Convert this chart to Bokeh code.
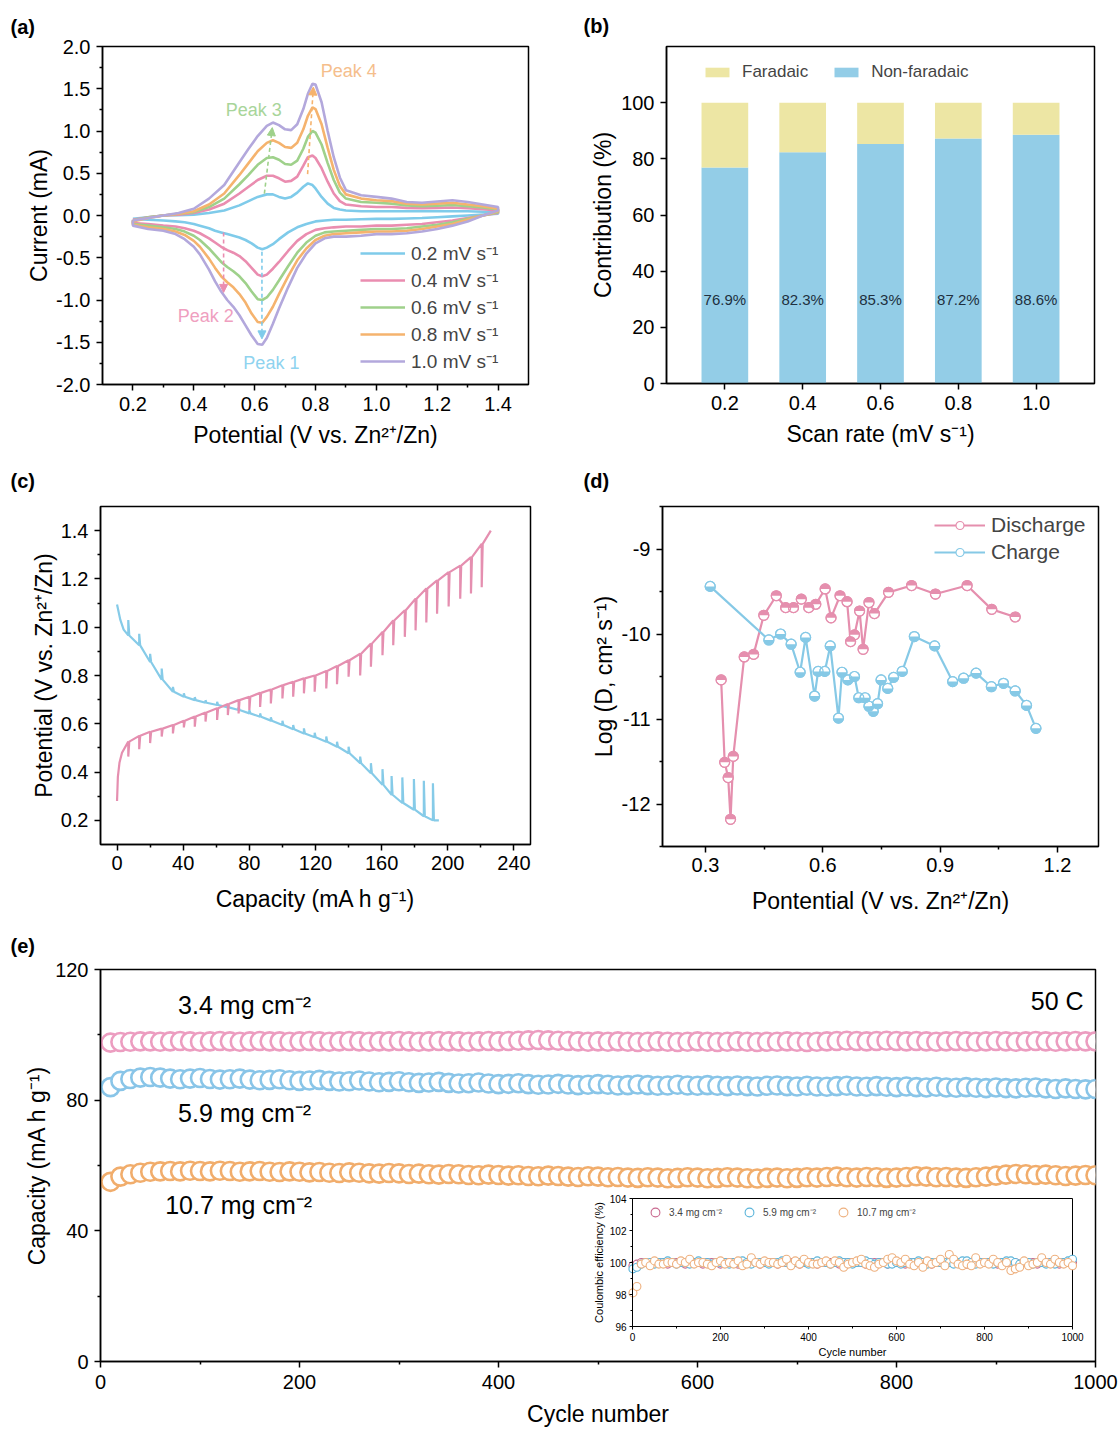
import numpy as np
from bokeh.plotting import figure
from bokeh.layouts import column, row
from bokeh.models import (FixedTicker, PrintfTickFormatter, Legend, LegendItem, Arrow,
                          NormalHead, Label, Range1d, LinearAxis, ColumnDataSource)
from bokeh.core.properties import value
from bokeh.embed import file_html
from bokeh.resources import INLINE

FONT = "Liberation Sans"

# ======================= (a) CV curves =======================
cv_labels = ["0.2 mV s\u207b\u00b9", "0.4 mV s\u207b\u00b9", "0.6 mV s\u207b\u00b9",
             "0.8 mV s\u207b\u00b9", "1.0 mV s\u207b\u00b9"]
cv_colors = ["#7fcbea", "#ea8db0", "#9fd18b", "#f5b36e", "#b3a8dc"]
cv_anodic_v = [0.20, 0.25, 0.30, 0.35, 0.40, 0.45, 0.50, 0.55, 0.58, 0.61, 0.64, 0.66,
               0.68, 0.70, 0.72, 0.74, 0.76, 0.775, 0.79, 0.80, 0.82, 0.84, 0.86, 0.88,
               0.90, 0.95, 1.00, 1.05, 1.10, 1.15, 1.20, 1.25, 1.30, 1.35, 1.40]
cv_cathodic_v = [1.40, 1.35, 1.30, 1.25, 1.20, 1.15, 1.10, 1.05, 1.00, 0.95,
                 0.90, 0.86, 0.83, 0.80, 0.77, 0.74, 0.71, 0.68, 0.66, 0.64,
                 0.625, 0.61, 0.59, 0.57, 0.55, 0.53, 0.51, 0.49, 0.47, 0.45,
                 0.42, 0.40, 0.37, 0.34, 0.30, 0.25, 0.20]
cv_anodic_i = [
    [-0.04, -0.02, 0.0, 0.005, 0.01, 0.03, 0.06, 0.12, 0.17, 0.22, 0.25, 0.25, 0.22, 0.20, 0.22,
     0.27, 0.34, 0.38, 0.36, 0.32, 0.22, 0.14, 0.09, 0.07, 0.06, 0.05, 0.05, 0.05, 0.05, 0.05,
     0.05, 0.05, 0.05, 0.045, 0.04],
    [-0.05, -0.02, 0.0, 0.01, 0.03, 0.07, 0.14, 0.26, 0.34, 0.42, 0.47, 0.47, 0.44, 0.40, 0.41,
     0.46, 0.59, 0.69, 0.71, 0.68, 0.56, 0.40, 0.26, 0.17, 0.13, 0.11, 0.10, 0.10, 0.09, 0.085,
     0.09, 0.095, 0.085, 0.075, 0.06],
    [-0.06, -0.02, 0.0, 0.02, 0.04, 0.10, 0.20, 0.37, 0.48, 0.60, 0.68, 0.69, 0.66, 0.61, 0.60,
     0.65, 0.79, 0.93, 1.00, 0.98, 0.84, 0.62, 0.42, 0.27, 0.20, 0.16, 0.15, 0.14, 0.12, 0.11,
     0.115, 0.125, 0.11, 0.095, 0.07],
    [-0.07, -0.03, 0.0, 0.02, 0.05, 0.13, 0.26, 0.48, 0.62, 0.76, 0.86, 0.89, 0.86, 0.81, 0.80,
     0.86, 1.02, 1.18, 1.28, 1.26, 1.08, 0.80, 0.54, 0.35, 0.25, 0.20, 0.18, 0.17, 0.14, 0.13,
     0.14, 0.15, 0.13, 0.11, 0.08],
    [-0.06, -0.03, 0.0, 0.03, 0.08, 0.20, 0.36, 0.63, 0.79, 0.94, 1.06, 1.10, 1.07, 1.02, 1.01,
     1.08, 1.26, 1.44, 1.56, 1.55, 1.34, 1.00, 0.69, 0.45, 0.30, 0.24, 0.22, 0.20, 0.16, 0.15,
     0.165, 0.18, 0.16, 0.13, 0.10],
]
cv_cathodic_i = [
    [0.02, 0.01, 0.0, -0.01, -0.02, -0.03, -0.035, -0.04, -0.04, -0.045,
     -0.05, -0.05, -0.06, -0.07, -0.10, -0.14, -0.20, -0.28, -0.34, -0.38,
     -0.40, -0.38, -0.33, -0.29, -0.26, -0.24, -0.22, -0.20, -0.18, -0.15,
     -0.12, -0.10, -0.08, -0.07, -0.06, -0.05, -0.04],
    [0.03, 0.0, -0.03, -0.06, -0.08, -0.10, -0.11, -0.12, -0.12, -0.13,
     -0.13, -0.14, -0.15, -0.17, -0.22, -0.30, -0.42, -0.55, -0.63, -0.70,
     -0.72, -0.70, -0.62, -0.54, -0.48, -0.44, -0.41, -0.37, -0.32, -0.27,
     -0.21, -0.18, -0.15, -0.13, -0.12, -0.10, -0.09],
    [0.04, 0.0, -0.04, -0.08, -0.11, -0.13, -0.15, -0.16, -0.16, -0.17,
     -0.18, -0.19, -0.20, -0.24, -0.32, -0.44, -0.60, -0.77, -0.88, -0.97,
     -1.00, -0.99, -0.90, -0.80, -0.72, -0.66, -0.61, -0.55, -0.47, -0.39,
     -0.29, -0.24, -0.19, -0.16, -0.14, -0.12, -0.10],
    [0.05, 0.0, -0.05, -0.10, -0.13, -0.16, -0.18, -0.19, -0.19, -0.20,
     -0.21, -0.22, -0.24, -0.29, -0.39, -0.53, -0.72, -0.93, -1.08, -1.20,
     -1.27, -1.26, -1.16, -1.03, -0.93, -0.85, -0.79, -0.72, -0.62, -0.51,
     -0.37, -0.30, -0.23, -0.19, -0.16, -0.14, -0.11],
    [0.06, 0.0, -0.07, -0.12, -0.16, -0.19, -0.21, -0.22, -0.22, -0.24,
     -0.25, -0.25, -0.27, -0.33, -0.45, -0.62, -0.85, -1.10, -1.28, -1.45,
     -1.53, -1.52, -1.42, -1.30, -1.18, -1.08, -1.00, -0.90, -0.78, -0.64,
     -0.46, -0.37, -0.28, -0.22, -0.18, -0.16, -0.12],
]
peak_names = ["Peak 1", "Peak 2", "Peak 3", "Peak 4"]
peak_colors = ["#8fd3ef", "#ef9fc0", "#a8d59a", "#f5be8c"]
peak_line_colors = ["#7fcbea", "#ea8db0", "#9fd18b", "#f5b36e"]
peak_text_x = [0.655, 0.439, 0.597, 0.909]
peak_text_y = [-1.75, -1.19, 1.25, 1.71]
peak_arrow_x0 = [0.624, 0.498, 0.632, 0.774]
peak_arrow_y0 = [-0.43, -0.20, 0.26, 0.49]
peak_arrow_x1 = [0.624, 0.498, 0.658, 0.793]
peak_arrow_y1 = [-1.46, -0.91, 1.04, 1.52]

# ======================= (b) contribution =======================
scan_rates = [0.2, 0.4, 0.6, 0.8, 1.0]
nonfaradaic = [76.9, 82.3, 85.3, 87.2, 88.6]
faradaic = [23.1, 17.7, 14.7, 12.8, 11.4]
bar_blue = "#93cde7"
bar_yellow = "#ede6a4"

# ======================= (c) GITT =======================
chg_start_cap = [0.0, 0.5, 1.5, 3.0]
chg_start_v = [0.28, 0.38, 0.44, 0.48]
chg_caps = [6.8, 13.4, 20.0, 27.0, 33.8, 40.4, 47.0, 53.5, 60.5, 67.0, 73.5, 80.0, 86.5,
            93.0, 100.0, 106.5, 113.0, 119.5, 126.5, 133.0, 140.0, 147.0, 153.5, 160.5,
            167.0, 174.0, 180.5, 187.0, 193.5, 200.5, 207.5, 214.0, 220.5]
chg_peak_v = [0.526, 0.55, 0.567, 0.58, 0.595, 0.613, 0.63, 0.647, 0.664, 0.682, 0.698,
              0.712, 0.728, 0.742, 0.76, 0.774, 0.788, 0.80, 0.819, 0.839, 0.863, 0.89,
              0.932, 0.98, 1.028, 1.07, 1.118, 1.16, 1.194, 1.228, 1.255, 1.29, 1.345]
chg_rest_v = [0.464, 0.495, 0.52, 0.547, 0.56, 0.585, 0.588, 0.609, 0.616, 0.636, 0.643,
              0.657, 0.67, 0.684, 0.705, 0.712, 0.726, 0.733, 0.746, 0.764, 0.795, 0.80,
              0.836, 0.884, 0.925, 0.96, 0.987, 1.02, 1.056, 1.086, 1.118, 1.14, 1.166]
chg_end = (226.0, 1.40)

dis_start_cap = [0.0, 2.0, 4.0]
dis_start_v = [1.094, 1.03, 0.99]
dis_caps = [6.8, 13.4, 20.0, 27.0, 33.8, 40.4, 47.0, 53.5, 60.5, 67.0, 73.5, 80.0, 86.5,
            93.0, 100.0, 106.5, 113.0, 119.5, 126.5, 133.0, 140.0, 147.0, 153.5, 160.5,
            166.0, 172.5, 179.5, 185.5, 191.0]
dis_low_v = [0.966, 0.925, 0.856, 0.783, 0.733, 0.712, 0.698, 0.687, 0.678, 0.668, 0.657,
             0.643, 0.629, 0.613, 0.595, 0.577, 0.56, 0.544, 0.526, 0.505, 0.478, 0.437,
             0.395, 0.347, 0.306, 0.272, 0.244, 0.217, 0.2]
dis_rest_v = [1.03, 0.973, 0.89, 0.829, 0.753, 0.726, 0.71, 0.698, 0.691, 0.682, 0.67,
              0.657, 0.643, 0.627, 0.613, 0.595, 0.581, 0.563, 0.547, 0.526, 0.505, 0.464,
              0.437, 0.412, 0.384, 0.378, 0.371, 0.364, 0.354]
dis_end = (194.6, 0.20)
gitt_pink = "#e58fb0"
gitt_blue = "#86cbe8"

# ======================= (d) diffusion =======================
d_dis_v = [0.340, 0.349, 0.358, 0.364, 0.371, 0.399, 0.423, 0.449, 0.481, 0.505, 0.525,
           0.545, 0.564, 0.582, 0.606, 0.621, 0.644, 0.662, 0.671, 0.681, 0.694, 0.703,
           0.718, 0.732, 0.768, 0.827, 0.888, 0.969, 1.032, 1.092]
d_dis_logd = [-10.54, -11.51, -11.69, -12.18, -11.44, -10.27, -10.24, -9.78, -9.55, -9.69,
              -9.69, -9.59, -9.69, -9.65, -9.47, -9.81, -9.55, -9.62, -10.09, -10.01, -9.73,
              -10.18, -9.63, -9.76, -9.51, -9.43, -9.53, -9.43, -9.71, -9.80]
d_chg_v = [0.312, 0.462, 0.492, 0.519, 0.542, 0.556, 0.579, 0.588, 0.605, 0.619, 0.640,
           0.649, 0.664, 0.681, 0.692, 0.708, 0.718, 0.729, 0.740, 0.749, 0.766, 0.781,
           0.803, 0.834, 0.886, 0.932, 0.960, 0.992, 1.031, 1.062, 1.092, 1.121, 1.145]
d_chg_logd = [-9.44, -10.07, -10.00, -10.12, -10.45, -10.04, -10.73, -10.44, -10.44, -10.14,
              -10.99, -10.45, -10.54, -10.50, -10.75, -10.75, -10.85, -10.91, -10.82, -10.54,
              -10.64, -10.51, -10.44, -10.03, -10.14, -10.56, -10.52, -10.46, -10.62, -10.58,
              -10.67, -10.84, -11.11]
d_pink = "#e58fae"
d_blue = "#86c9e6"

# ======================= (e) cycling =======================
cycles = list(range(10, 1001, 10))
cap_34 = [97.6, 97.8, 97.9, 98.0, 98.0, 97.9, 98.0, 98.1, 98.0, 97.9,
          98.0, 98.1, 98.0, 97.9, 98.0, 98.1, 98.0, 98.0, 97.9, 98.0,
          98.1, 98.0, 97.9, 98.0, 98.1, 98.0, 97.9, 98.0, 98.0, 98.1,
          98.0, 97.9, 98.0, 98.1, 98.0, 98.0, 97.9, 98.0, 98.1, 98.0,
          98.1, 98.2, 98.3, 98.4, 98.3, 98.2, 98.1, 98.0, 97.9, 98.0,
          97.9, 98.0, 97.9, 97.8, 97.9, 98.0, 97.9, 97.8, 97.9, 98.0,
          97.9, 97.8, 97.9, 98.0, 97.9, 97.8, 97.9, 97.9, 98.0, 97.9,
          97.8, 97.9, 98.0, 98.1, 98.2, 98.1, 98.0, 98.1, 98.2, 98.1,
          98.0, 98.1, 98.0, 97.9, 98.0, 98.1, 98.0, 97.9, 98.0, 98.1,
          98.0, 97.9, 98.0, 98.1, 98.0, 97.9, 98.0, 98.1, 98.0, 98.0]
cap_59 = [84.0, 85.9, 86.5, 86.9, 87.1, 86.9, 86.6, 86.4, 86.6, 86.8,
          86.5, 86.3, 86.4, 86.6, 86.3, 86.1, 86.2, 86.4, 86.1, 85.9,
          86.0, 86.2, 85.9, 85.7, 85.8, 86.0, 85.7, 85.5, 85.6, 85.8,
          85.5, 85.3, 85.4, 85.6, 85.3, 85.1, 85.2, 85.4, 85.1, 84.9,
          85.0, 85.2, 84.9, 84.7, 84.8, 85.0, 84.8, 84.6, 84.7, 84.9,
          84.7, 84.5, 84.6, 84.8, 84.6, 84.4, 84.5, 84.7, 84.5, 84.4,
          84.6, 84.4, 84.3, 84.5, 84.3, 84.2, 84.4, 84.5, 84.3, 84.2,
          84.4, 84.2, 84.1, 84.3, 84.4, 84.2, 84.1, 84.3, 84.1, 84.0,
          84.2, 84.0, 83.9, 84.1, 83.9, 83.8, 84.0, 83.8, 83.7, 83.9,
          83.7, 83.6, 83.8, 83.9, 83.6, 83.4, 83.6, 83.4, 83.3, 83.4]
cap_107 = [55.0, 56.6, 57.3, 57.8, 58.1, 58.2, 58.3, 58.2, 58.4, 58.3,
           58.2, 58.4, 58.3, 58.1, 58.2, 58.3, 58.1, 58.0, 58.2, 58.1,
           57.9, 58.0, 57.8, 57.7, 57.9, 57.8, 57.6, 57.5, 57.7, 57.6,
           57.4, 57.5, 57.3, 57.2, 57.4, 57.3, 57.1, 57.0, 57.2, 57.1,
           56.9, 57.0, 56.8, 56.7, 56.9, 56.8, 56.6, 56.5, 56.7, 56.6,
           56.4, 56.5, 56.3, 56.2, 56.4, 56.3, 56.1, 56.2, 56.4, 56.3,
           56.1, 56.2, 56.4, 56.3, 56.1, 56.0, 56.2, 56.3, 56.1, 56.2,
           56.4, 56.3, 56.5, 56.6, 56.4, 56.3, 56.5, 56.4, 56.2, 56.3,
           56.5, 56.7, 56.6, 56.4, 56.5, 56.3, 56.2, 56.4, 56.6, 56.9,
           57.2, 57.4, 57.3, 57.1, 57.2, 57.0, 56.8, 56.9, 57.1, 57.0]
loading_labels = ["3.4 mg cm\u207b\u00b2", "5.9 mg cm\u207b\u00b2", "10.7 mg cm\u207b\u00b2"]
loading_colors = ["#ec9dc0", "#89c5e8", "#f1ad6c"]
loading_text_x = [78, 78, 65]
loading_text_y = [109.0, 76.2, 47.8]
rate_text = "50 C"
rate_text_pos = (988, 110.5)

ce_cycles = [1] + list(range(10, 1001, 10))
ce_34 = [99.8, 99.9, 100.0, 100.0, 99.9, 100.0, 100.0, 100.0, 99.9, 100.0, 100.0,
         100.0, 99.9, 100.0, 100.0, 100.0, 99.9, 100.0, 100.0, 100.0, 99.9,
         100.0, 100.0, 100.0, 99.9, 100.0, 100.0, 100.0, 100.0, 99.9, 100.0,
         100.0, 100.0, 99.9, 100.0, 100.0, 100.0, 100.0, 99.9, 100.0, 100.0,
         100.0, 99.9, 100.0, 100.0, 100.0, 100.0, 99.9, 100.0, 100.0, 100.0,
         100.0, 100.0, 99.9, 100.0, 100.0, 100.0, 100.0, 99.9, 100.0, 100.0,
         100.0, 99.9, 100.0, 100.0, 100.0, 100.0, 100.0, 99.9, 100.0, 100.0,
         99.9, 100.0, 100.0, 100.0, 100.0, 99.9, 100.0, 100.0, 100.0, 100.0,
         100.0, 100.0, 99.9, 100.0, 100.0, 100.0, 100.0, 99.9, 100.0, 100.0,
         100.0, 99.9, 100.0, 100.0, 100.0, 100.0, 99.9, 100.0, 100.0, 100.0]
ce_59 = [99.6, 99.7, 99.9, 100.0, 100.0, 99.9, 100.0, 100.0, 100.1, 100.0, 99.9,
         100.0, 100.0, 99.9, 100.0, 100.1, 100.0, 100.0, 99.9, 100.0, 100.0,
         100.0, 99.9, 100.0, 100.0, 100.1, 100.0, 99.9, 100.0, 100.0, 100.0,
         99.9, 100.0, 100.0, 100.1, 100.0, 99.9, 100.0, 100.0, 100.0, 99.9,
         100.0, 100.1, 100.0, 100.0, 99.9, 100.0, 100.1, 100.0, 100.0, 99.9,
         100.0, 100.0, 100.1, 100.0, 99.9, 100.0, 100.0, 99.9, 99.9, 100.0,
         99.9, 100.0, 100.0, 100.0, 100.1, 100.0, 99.9, 100.0, 100.0, 100.0,
         100.0, 100.0, 99.9, 100.0, 100.1, 100.1, 100.0, 99.9, 100.0, 100.0,
         100.0, 99.9, 100.0, 100.0, 100.1, 100.1, 100.0, 99.9, 100.0, 100.0,
         99.9, 100.0, 100.0, 99.9, 100.0, 99.9, 100.0, 100.0, 100.1, 100.2]
ce_107 = [98.1, 98.5, 99.9, 100.0, 99.8, 100.1, 99.9, 99.9, 100.0, 100.0, 99.9,
          100.1, 100.0, 100.2, 99.9, 100.0, 100.0, 99.9, 99.8, 100.0, 100.1,
          99.9, 100.0, 99.9, 100.1, 99.8, 99.9, 100.3, 100.0, 99.9, 100.1,
          100.0, 100.0, 99.9, 100.0, 100.2, 99.8, 100.1, 99.9, 100.2, 100.0,
          99.9, 99.9, 100.0, 100.1, 99.9, 100.1, 100.0, 99.7, 99.9, 100.0,
          100.1, 100.2, 99.9, 99.8, 99.7, 99.9, 100.0, 100.2, 100.3, 100.1,
          100.0, 100.2, 99.9, 99.8, 100.0, 99.7, 100.1, 99.9, 100.0, 100.2,
          99.8, 100.5, 100.2, 99.9, 99.8, 99.9, 99.8, 100.3, 99.9, 100.0,
          99.9, 100.2, 100.0, 99.8, 100.0, 99.5, 99.6, 99.7, 100.1, 99.8,
          99.9, 100.0, 100.3, 100.0, 99.9, 100.2, 100.0, 99.9, 100.0, 99.8]
ce_colors = ["#c9698f", "#5ab4da", "#eeb07e"]


# ======================= helpers =======================
def base_fig(fw, fh, left, right, top, bottom, xr, yr):
    p = figure(frame_width=fw, frame_height=fh, min_border_left=left, min_border_right=right,
               min_border_top=top, min_border_bottom=bottom,
               x_range=Range1d(*xr), y_range=Range1d(*yr),
               output_backend="svg", toolbar_location=None)
    p.grid.visible = False
    p.outline_line_color = "black"
    p.outline_line_width = 1.5
    p.outline_line_alpha = 1.0
    p.background_fill_color = "white"
    p.border_fill_color = "white"
    return p


def style_axis(ax, ticks, minor, fmt=None, tick_size="20px", label_size="23px",
               lstand=6, astand=6, tout=6, mout=3, lw=1.5):
    ax.ticker = FixedTicker(ticks=ticks, minor_ticks=minor)
    if fmt:
        ax.formatter = PrintfTickFormatter(format=fmt)
    ax.axis_line_color = "black"
    ax.axis_line_width = lw
    ax.major_tick_line_color = "black"
    ax.major_tick_line_width = lw
    ax.minor_tick_line_color = "black"
    ax.minor_tick_line_width = lw
    ax.major_tick_in = 0
    ax.major_tick_out = tout
    ax.minor_tick_in = 0
    ax.minor_tick_out = mout
    ax.major_label_text_font = FONT
    ax.major_label_text_font_size = tick_size
    ax.major_label_text_color = "black"
    ax.axis_label_text_font = FONT
    ax.axis_label_text_font_size = label_size
    ax.axis_label_text_font_style = "normal"
    ax.axis_label_text_color = "black"
    ax.major_label_standoff = lstand
    ax.axis_label_standoff = astand


def panel_label(p, text, offset, standoff):
    t = p.title
    t.text = text
    t.align = "left"
    t.offset = offset
    t.standoff = standoff
    t.text_font = FONT
    t.text_font_size = "20px"
    t.text_font_style = "bold"
    t.text_color = "black"


def add_legend(p, items, loc, orientation="vertical", font_size="19px", gw=45, gh=20,
               lh=20, spacing=5, standoff=6):
    lg = Legend(items=items, location=loc, orientation=orientation, glyph_width=gw,
                glyph_height=gh, label_height=lh, label_standoff=standoff, spacing=spacing,
                padding=0, margin=0, border_line_color=None, background_fill_alpha=0,
                label_text_font=FONT, label_text_font_size=font_size)
    p.add_layout(lg)
    return lg


# ======================= (a) =======================
pa = base_fig(426, 338, 102, 32, 45, 69, (0.1, 1.5), (-2.0, 2.0))
style_axis(pa.xaxis[0], [0.2, 0.4, 0.6, 0.8, 1.0, 1.2, 1.4],
           [0.3, 0.5, 0.7, 0.9, 1.1, 1.3], fmt="%.1f", astand=8)
style_axis(pa.yaxis[0], [-2.0, -1.5, -1.0, -0.5, 0.0, 0.5, 1.0, 1.5, 2.0],
           [-1.75, -1.25, -0.75, -0.25, 0.25, 0.75, 1.25, 1.75], fmt="%.1f", astand=1)
pa.xaxis.axis_label = "Potential (V vs. Zn\u00b2\u207a/Zn)"
pa.yaxis.axis_label = "Current (mA)"
cv_items = []
for k in range(5):
    xs = cv_anodic_v + cv_cathodic_v + cv_anodic_v[:1]
    ys = cv_anodic_i[k] + cv_cathodic_i[k] + cv_anodic_i[k][:1]
    r = pa.line(xs, ys, line_color=cv_colors[k], line_width=2.6)
    cv_items.append(LegendItem(label=cv_labels[k], renderers=[r]))
for k in range(4):
    pa.add_layout(Arrow(x_start=peak_arrow_x0[k], y_start=peak_arrow_y0[k],
                        x_end=peak_arrow_x1[k], y_end=peak_arrow_y1[k],
                        line_color=peak_line_colors[k], line_width=1.6, line_dash="4 3",
                        end=NormalHead(size=8, fill_color=peak_line_colors[k],
                                       line_color=peak_line_colors[k], line_width=1)))
    pa.add_layout(Label(x=peak_text_x[k], y=peak_text_y[k], text=peak_names[k],
                        text_font=FONT, text_font_size="18px", text_color=peak_colors[k],
                        text_align="center", text_baseline="middle"))
add_legend(pa, cv_items, (258, 10), font_size="19px", gw=45, gh=20, lh=20, spacing=1,
           standoff=6)
panel_label(pa, "(a)", -92, 17)

# ======================= (b) =======================
pb = base_fig(428, 337, 106, 26, 46, 69, (0.05, 1.15), (0, 120))
style_axis(pb.xaxis[0], scan_rates, [], fmt="%.1f", astand=8)
style_axis(pb.yaxis[0], [0, 20, 40, 60, 80, 100], [], astand=2)
pb.xaxis.axis_label = "Scan rate (mV s\u207b\u00b9)"
pb.yaxis.axis_label = "Contribution (%)"
src_b = ColumnDataSource(dict(rate=scan_rates, non=nonfaradaic, far=faradaic,
                              lab=[f"{v}%" for v in nonfaradaic],
                              ly=[30] * len(scan_rates)))
rs = pb.vbar_stack(["non", "far"], x="rate", width=0.12, color=[bar_blue, bar_yellow],
                   line_color=None, source=src_b)
pb.text(x="rate", y="ly", text="lab", source=src_b, text_font=value(FONT),
        text_font_size=value("15px"), text_color="#203040", text_align="center",
        text_baseline="middle")
add_legend(pb, [LegendItem(label="Faradaic", renderers=[rs[1]]),
                LegendItem(label="Non-faradaic", renderers=[rs[0]])],
           (36, 301), orientation="horizontal", font_size="17px", gw=30, gh=12, lh=20,
           spacing=23, standoff=10)
panel_label(pb, "(b)", -83, 19)

# ======================= (c) =======================
pc = base_fig(430, 338, 100, 30, 54, 74, (-10, 250), (0.1, 1.5))
style_axis(pc.xaxis[0], [0, 40, 80, 120, 160, 200, 240], [20, 60, 100, 140, 180, 220],
           lstand=5, astand=13)
style_axis(pc.yaxis[0], [0.2, 0.4, 0.6, 0.8, 1.0, 1.2, 1.4],
           [0.3, 0.5, 0.7, 0.9, 1.1, 1.3], fmt="%.1f", astand=1)
pc.xaxis.axis_label = "Capacity (mA h g\u207b\u00b9)"
pc.yaxis.axis_label = "Potential (V vs. Zn\u00b2\u207a/Zn)"


def gitt_path(sx, sy, caps, v_pulse, v_rest, end):
    xs, ys = list(sx), list(sy)
    for c, v, r in zip(caps, v_pulse, v_rest):
        xs += [c, c, c + 0.6]
        ys += [v, r, v]
    xs.append(end[0])
    ys.append(end[1])
    return xs, ys


cx, cy = gitt_path(chg_start_cap, chg_start_v, chg_caps, chg_peak_v, chg_rest_v, chg_end)
dx, dy = gitt_path(dis_start_cap, dis_start_v, dis_caps, dis_low_v, dis_rest_v, dis_end)
pc.line(dx, dy, line_color=gitt_blue, line_width=2.2)
pc.line(cx, cy, line_color=gitt_pink, line_width=2.2)
panel_label(pc, "(c)", -90, 29)

# ======================= (d) =======================
pd_ = base_fig(436, 340, 102, 22, 54, 72, (0.19, 1.305), (-12.5, -8.5))
style_axis(pd_.xaxis[0], [0.3, 0.6, 0.9, 1.2], [0.45, 0.75, 1.05], fmt="%.1f",
           lstand=5, astand=13)
style_axis(pd_.yaxis[0], [-12, -11, -10, -9], [-12.5, -11.5, -10.5, -9.5, -8.5],
           fmt="%d", astand=2)
pd_.xaxis.axis_label = "Pontential (V vs. Zn\u00b2\u207a/Zn)"
pd_.yaxis.axis_label = "Log (D, cm\u00b2 s\u207b\u00b9)"
d_items = []
for xs, ys, col, lab, a0, a1 in ((d_dis_v, d_dis_logd, d_pink, "Discharge", 0, np.pi),
                                 (d_chg_v, d_chg_logd, d_blue, "Charge", np.pi, 2 * np.pi)):
    rl = pd_.line(xs, ys, line_color=col, line_width=2.2)
    rm = pd_.scatter(xs, ys, size=10, fill_color="white", line_color=col, line_width=1.2)
    pd_.wedge(xs, ys, radius=5, radius_units="screen", start_angle=a0, end_angle=a1,
              fill_color=col, line_color=None)
    pd_.scatter(xs, ys, size=10, fill_color=None, line_color=col, line_width=1.2)
    d_items.append(LegendItem(label=lab, renderers=[rl, rm]))
add_legend(pd_, d_items, (272, 282), font_size="21px", gw=51, gh=20, lh=20, spacing=3,
           standoff=6)
panel_label(pd_, "(d)", -79, 29)

# ======================= (e) =======================
FW_E, FH_E = 995, 392
pe = base_fig(FW_E, FH_E, 100, 25, 51, 71, (0, 1000), (0, 120))
style_axis(pe.xaxis[0], [0, 200, 400, 600, 800, 1000], [100, 300, 500, 700, 900],
           lstand=7, astand=9)
style_axis(pe.yaxis[0], [0, 40, 80, 120], [20, 60, 100], astand=2)
pe.xaxis.axis_label = "Cycle number"
pe.yaxis.axis_label = "Capacity (mA h g\u207b\u00b9)"
for vals, col in zip((cap_34, cap_59, cap_107), loading_colors):
    pe.scatter(cycles, vals, size=18, fill_color="white", line_color=col, line_width=2.6)
for k in range(3):
    pe.add_layout(Label(x=loading_text_x[k], y=loading_text_y[k], text=loading_labels[k],
                        text_font=FONT, text_font_size="25px", text_color="black",
                        text_baseline="middle", text_align="left"))
pe.add_layout(Label(x=rate_text_pos[0], y=rate_text_pos[1], text=rate_text,
                    text_font=FONT, text_font_size="25px", text_color="black",
                    text_baseline="middle", text_align="right"))
panel_label(pe, "(e)", -90, 25)

# ---- inset (frame-relative pixel box) ----
IN_X0, IN_X1 = 532, 972      # px from main frame left
IN_Y0, IN_Y1 = 35, 163       # px from main frame bottom
ix_lo, ix_hi = 0, 1000
iy_lo, iy_hi = 96, 104
sx_in = (IN_X1 - IN_X0) / (ix_hi - ix_lo)
sy_in = (IN_Y1 - IN_Y0) / (iy_hi - iy_lo)
pe.extra_x_ranges = {"ix": Range1d(ix_lo - IN_X0 / sx_in, ix_hi + (FW_E - IN_X1) / sx_in)}
pe.extra_y_ranges = {"iy": Range1d(iy_lo - IN_Y0 / sy_in, iy_hi + (FH_E - IN_Y1) / sy_in)}
pe.quad(left=[ix_lo], right=[ix_hi], bottom=[iy_lo], top=[iy_hi], x_range_name="ix",
        y_range_name="iy", fill_color="white", line_color="black", line_width=1)
ce_items = []
for vals, col, lab in zip((ce_34, ce_59, ce_107), ce_colors, loading_labels):
    r = pe.scatter(ce_cycles, vals, size=8, fill_color="white", line_color=col,
                   line_width=1.1, x_range_name="ix", y_range_name="iy")
    ce_items.append(LegendItem(label=lab, renderers=[r]))
ax_ib = LinearAxis(x_range_name="ix", y_range_name="iy", fixed_location=iy_lo,
                   bounds=(ix_lo, ix_hi), axis_label="Cycle number")
style_axis(ax_ib, [0, 200, 400, 600, 800, 1000], [100, 300, 500, 700, 900],
           tick_size="10px", label_size="11px", lstand=3, astand=2, tout=3, mout=2, lw=1)
pe.add_layout(ax_ib, "below")
ax_il = LinearAxis(x_range_name="ix", y_range_name="iy", fixed_location=ix_lo,
                   bounds=(iy_lo, iy_hi), axis_label="Coulombic efficiency (%)")
style_axis(ax_il, [96, 98, 100, 102, 104], [97, 99, 101, 103],
           tick_size="10px", label_size="11px", lstand=3, astand=2, tout=3, mout=2, lw=1)
pe.add_layout(ax_il, "left")
add_legend(pe, ce_items, (544, 138), orientation="horizontal", font_size="10px", gw=22,
           gh=22, lh=14, spacing=16, standoff=3)

layout = column(row(pa, pb), row(pc, pd_), pe)
open("out.html", "w").write(file_html(layout, INLINE, title="figure"))
